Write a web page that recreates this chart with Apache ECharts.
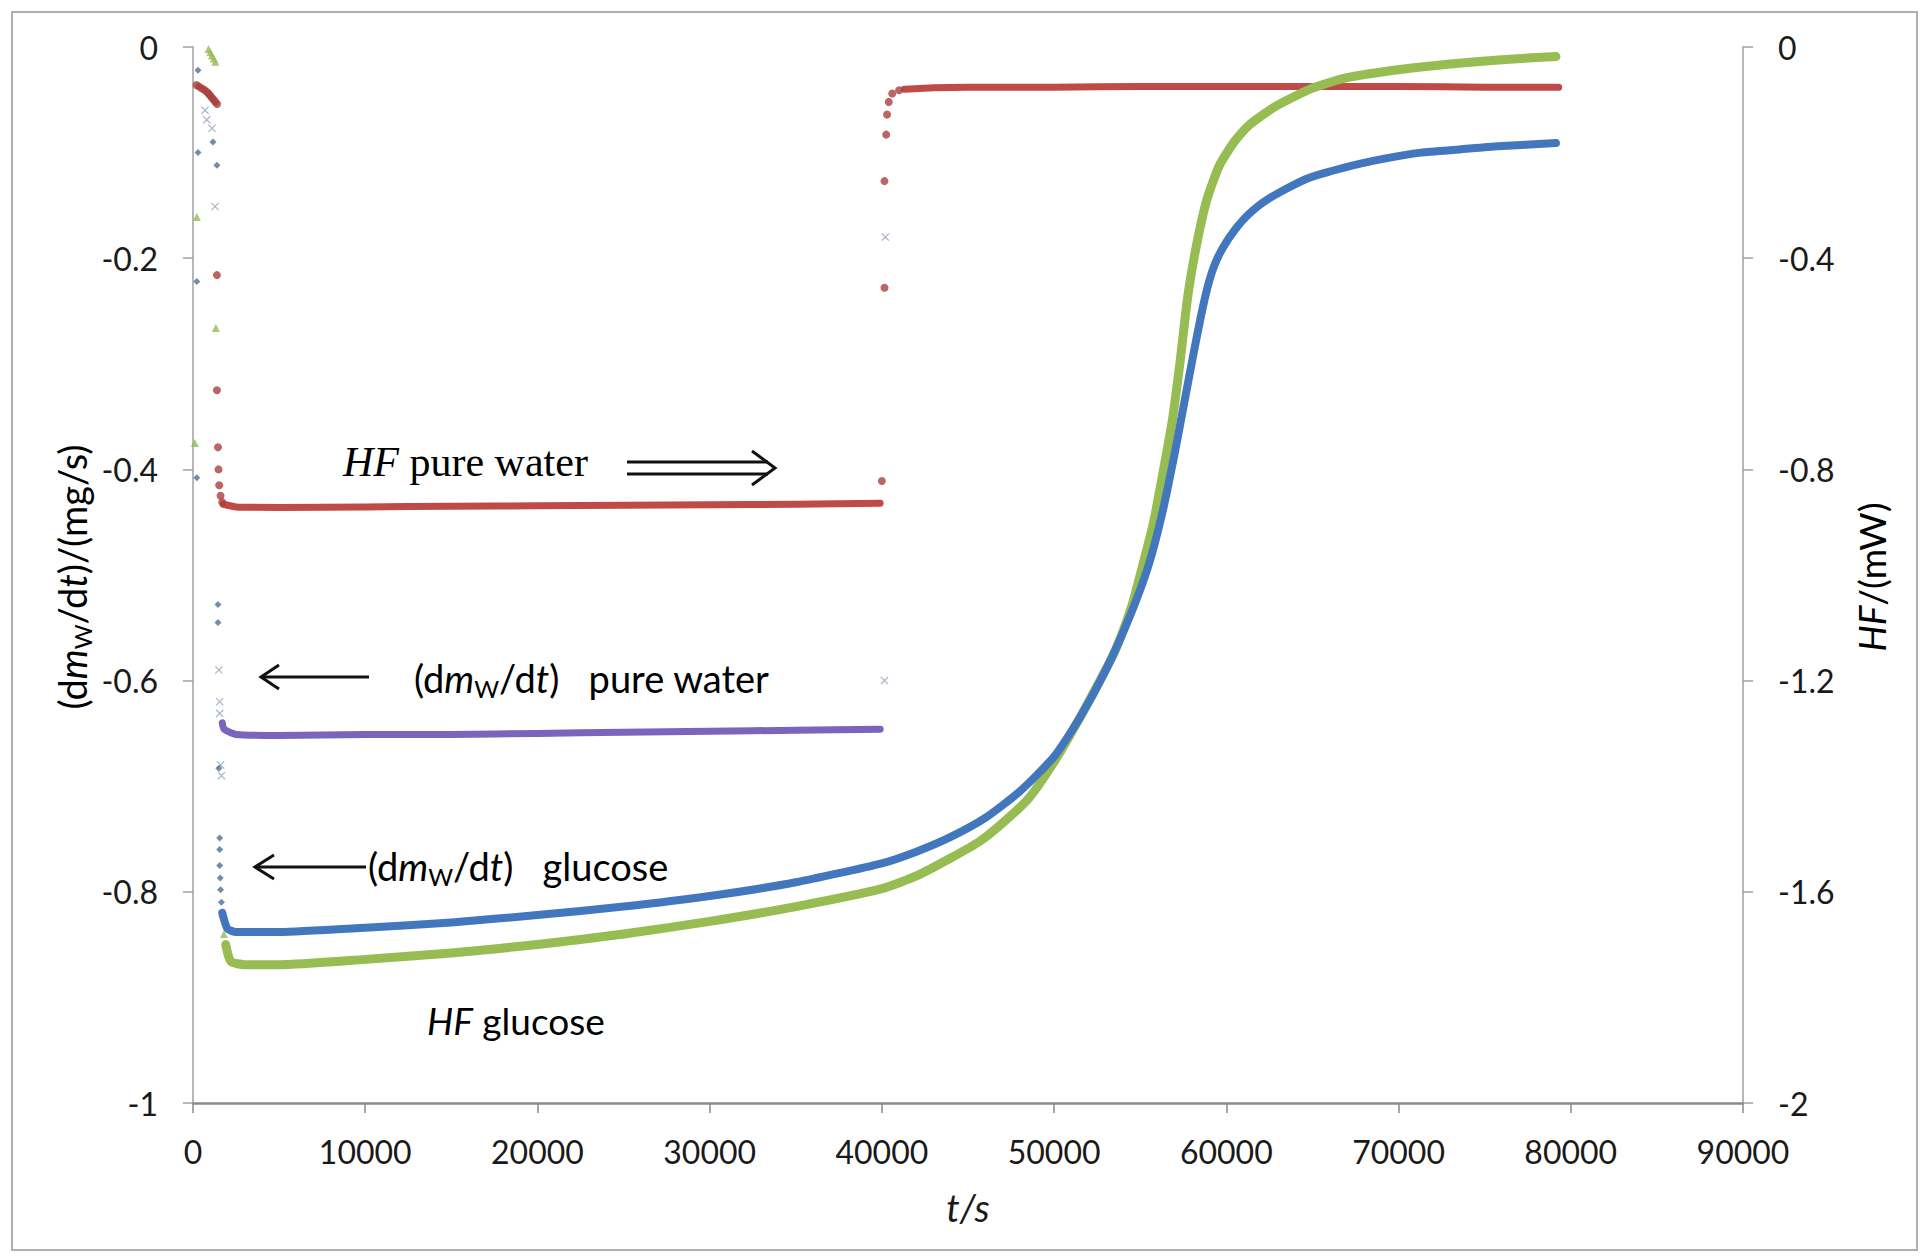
<!DOCTYPE html>
<html><head><meta charset="utf-8">
<script src="https://cdn.jsdelivr.net/npm/echarts/dist/echarts.min.js"></script>
<style>html,body{margin:0;padding:0;background:#fff}#c{width:1921px;height:1259px}</style>
</head><body><div id="c"></div>
<script>
// ---- tick settings ----
const xTicks = {min: 0, max: 90000, interval: 10000};
const leftTicks = {min: -1, max: 0, interval: 0.2};
const rightTicks = {min: -2, max: 0, interval: 0.4};

// ---- HF pure water (right axis, mW) ----
const hfWaterDots = [[200,-0.072],[350,-0.075],[500,-0.078],[650,-0.081],[800,-0.085],[900,-0.088],[1000,-0.092],[1100,-0.096],[1200,-0.1],[1300,-0.104],[1400,-0.108],
  [1390,-0.432],[1390,-0.65],[1450,-0.758],[1480,-0.80],[1520,-0.83],[1600,-0.85],[1700,-0.862],
  [40000,-0.822],[40150,-0.456],[40150,-0.254],[40250,-0.166],[40300,-0.128],[40400,-0.104],[40600,-0.088],[41000,-0.082]];
const hfWaterPlateau1 = [[1750,-0.866],[2500,-0.871],[5000,-0.872],[10000,-0.871],[15000,-0.870],[20000,-0.869],[25000,-0.868],[30000,-0.867],[35000,-0.866],[39900,-0.864]];
const hfWaterPlateau2 = [[41300,-0.080],[43000,-0.077],[45000,-0.076],[50000,-0.076],[55000,-0.075],[60000,-0.075],[65000,-0.075],[70000,-0.075],[75000,-0.076],[79300,-0.076]];

// ---- dm/dt pure water (left axis, mg/s) ----
const dmWaterDots = [[700,-0.06],[800,-0.069],[1100,-0.077],[1280,-0.151],[1500,-0.59],[1550,-0.62],[1550,-0.631],[1600,-0.68],[1650,-0.69],[40150,-0.60],[40200,-0.18]];
const dmWaterLine = [[1700,-0.64],[1800,-0.646],[2500,-0.651],[5000,-0.652],[10000,-0.651],[15000,-0.651],[20000,-0.650],[25000,-0.649],[30000,-0.648],[35000,-0.647],[39900,-0.646]];

// ---- dm/dt glucose (left axis, mg/s) ----
const dmGluDots = [[290,-0.022],[290,-0.10],[220,-0.222],[1160,-0.09],[1390,-0.112],[220,-0.408],[1450,-0.528],[1450,-0.545],[1500,-0.683],[1550,-0.749],[1550,-0.76],[1550,-0.775],[1580,-0.787],[1600,-0.798],[1650,-0.81]];
const dmGluLine = [[1700,-0.82],[2000,-0.835],[2500,-0.838],[5000,-0.838],[10000,-0.834],[15000,-0.829],[20000,-0.822],[25000,-0.814],[30000,-0.804],[35000,-0.791],[40000,-0.773],[42000,-0.762],[44000,-0.748],[46000,-0.73],[48000,-0.705],[50000,-0.672],[51500,-0.635],[53000,-0.59],[54500,-0.535],[55500,-0.49],[56300,-0.44],[57000,-0.385],[57600,-0.333],[58100,-0.29],[58500,-0.257],[58900,-0.228],[59300,-0.207],[59800,-0.19],[60500,-0.173],[61320,-0.158],[62420,-0.144],[64630,-0.125],[66900,-0.114],[69100,-0.106],[71300,-0.100],[73550,-0.097],[75780,-0.094],[79140,-0.091]];

// ---- HF glucose (right axis, mW) ----
const hfGluDots = [[900,-0.004],[1000,-0.01],[1100,-0.016],[1200,-0.022],[1300,-0.028],[220,-0.322],[1330,-0.532],[110,-0.75],[1700,-1.64],[1800,-1.68]];
const hfGluLine = [[1900,-1.70],[2200,-1.732],[3000,-1.738],[5000,-1.738],[10000,-1.728],[15000,-1.716],[20000,-1.70],[25000,-1.68],[30000,-1.656],[35000,-1.628],[40000,-1.594],[42000,-1.57],[44000,-1.536],[45700,-1.504],[47000,-1.47],[48500,-1.424],[50000,-1.354],[51330,-1.28],[52500,-1.21],[53540,-1.144],[54500,-1.06],[55000,-1.00],[55750,-0.904],[56300,-0.81],[56850,-0.71],[57300,-0.60],[57770,-0.47],[58300,-0.37],[58880,-0.288],[59600,-0.224],[60450,-0.18],[61320,-0.148],[62880,-0.112],[65000,-0.078],[67000,-0.058],[70200,-0.042],[73000,-0.032],[76000,-0.024],[79140,-0.018]];

const RED = '#BE4B48', PURPLE = '#7B64BC', BLUE = '#4377BD', GREEN = '#96BC52';
const SANS = 'Lato, "Liberation Sans", sans-serif';
const SERIF = '"Liberation Serif", "DejaVu Serif", serif';
const XMARK = 'path://M0,1 L1,0 L5,4 L9,0 L10,1 L6,5 L10,9 L9,10 L5,6 L1,10 L0,9 L4,5 Z';

function lineS(data, axis, color, width, z) {
  return {type: 'line', data, yAxisIndex: axis, showSymbol: false, symbol: 'none', smooth: 0.2,
    lineStyle: {color, width, cap: 'round', join: 'round'}, z, silent: true};
}
function dotS(data, axis, color, symbol, size, z) {
  return {type: 'scatter', data, yAxisIndex: axis, symbol, symbolSize: size, itemStyle: {color}, z, silent: true};
}

const chart = echarts.init(document.getElementById('c'), null, {renderer: 'svg', width: 1921, height: 1259});
const axisGray = '#8a8a8a';
const TXT = '#1a1a1a';
const richDm = (fs) => ({
  p: {fontFamily: SANS, fontSize: fs, lineHeight: fs + 6, color: TXT},
  i: {fontFamily: SANS, fontSize: fs, fontStyle: 'italic', lineHeight: fs + 6, color: TXT},
  s: {fontFamily: SANS, fontSize: Math.round(fs * 0.62), lineHeight: Math.round(fs * 0.5), verticalAlign: 'bottom', color: TXT}
});
const plain = (v) => String(Math.round(v * 1000) / 1000);

chart.setOption({
  animation: false,
  backgroundColor: '#fff',
  grid: {left: 193, right: 178, top: 47, bottom: 156, containLabel: false},
  xAxis: {type: 'value', min: xTicks.min, max: xTicks.max, interval: xTicks.interval,
    axisLine: {onZero: false, lineStyle: {color: axisGray, width: 2.5}},
    axisTick: {show: true, inside: false, length: 10, lineStyle: {color: axisGray, width: 1.5}},
    axisLabel: {color: TXT, fontFamily: SANS, fontSize: 32, margin: 32, formatter: plain},
    splitLine: {show: false}},
  yAxis: [
    {type: 'value', position: 'left', min: leftTicks.min, max: leftTicks.max, interval: leftTicks.interval,
      axisLine: {show: true, onZero: false, lineStyle: {color: '#a0a0a0', width: 1.5}},
      axisTick: {show: true, inside: false, length: 10, lineStyle: {color: '#a0a0a0', width: 1.5}},
      axisLabel: {color: TXT, fontFamily: SANS, fontSize: 32, margin: 35, formatter: plain},
      splitLine: {show: false}},
    {type: 'value', position: 'right', min: rightTicks.min, max: rightTicks.max, interval: rightTicks.interval,
      axisLine: {show: true, onZero: false, lineStyle: {color: '#a0a0a0', width: 1.5}},
      axisTick: {show: true, inside: false, length: 10, lineStyle: {color: '#a0a0a0', width: 1.5}},
      axisLabel: {color: TXT, fontFamily: SANS, fontSize: 32, margin: 35, formatter: plain},
      splitLine: {show: false}}
  ],
  series: [
    lineS(hfWaterPlateau1, 1, RED, 7, 2),
    lineS(hfWaterPlateau2, 1, RED, 7, 2),
    dotS(hfWaterDots, 1, '#a9403d', 'circle', 8, 2),
    lineS(dmWaterLine, 0, PURPLE, 7, 3),
    dotS(dmWaterDots, 0, '#8fa0b8', XMARK, 8, 3),
    lineS(hfGluLine, 1, GREEN, 9, 4),
    dotS(hfGluDots, 1, GREEN, 'triangle', 8, 4),
    lineS(dmGluLine, 0, BLUE, 8, 5),
    dotS(dmGluDots, 0, '#4f6f98', 'diamond', 7, 5)
  ],
  graphic: [
    {type: 'rect', shape: {x: 12, y: 12, width: 1905, height: 1238}, style: {fill: 'none', stroke: '#b0b0b0', lineWidth: 2}, z: 0},
    // HF pure water
    {type: 'text', x: 343, y: 462, style: {text: '{i|HF}{n| pure water}', textVerticalAlign: 'middle',
      rich: {i: {fontFamily: SERIF, fontStyle: 'italic', fontSize: 42, color: '#111'}, n: {fontFamily: SERIF, fontSize: 42, color: '#111'}}}, z: 10},
    {type: 'line', shape: {x1: 627, y1: 462, x2: 768, y2: 462}, style: {stroke: '#111', lineWidth: 3}, z: 10},
    {type: 'line', shape: {x1: 627, y1: 474, x2: 768, y2: 474}, style: {stroke: '#111', lineWidth: 3}, z: 10},
    {type: 'polyline', shape: {points: [[752, 451], [775, 468], [752, 485]]}, style: {stroke: '#111', lineWidth: 3, fill: 'none'}, z: 10},
    // dm/dt pure water
    {type: 'text', x: 414, y: 678, style: {text: '{p|(d}{i|m}{s|W}{p|/d}{i|t}{p|)   pure water}', textVerticalAlign: 'middle', rich: richDm(38)}, z: 10},
    {type: 'line', shape: {x1: 262, y1: 677, x2: 369, y2: 677}, style: {stroke: '#111', lineWidth: 3}, z: 10},
    {type: 'polyline', shape: {points: [[279, 665], [261, 677], [279, 689]]}, style: {stroke: '#111', lineWidth: 3, fill: 'none'}, z: 10},
    // dm/dt glucose
    {type: 'text', x: 368, y: 866, style: {text: '{p|(d}{i|m}{s|W}{p|/d}{i|t}{p|)   glucose}', textVerticalAlign: 'middle', rich: richDm(38)}, z: 10},
    {type: 'line', shape: {x1: 256, y1: 867, x2: 366, y2: 867}, style: {stroke: '#111', lineWidth: 3}, z: 10},
    {type: 'polyline', shape: {points: [[274, 855], [255, 867], [274, 879]]}, style: {stroke: '#111', lineWidth: 3, fill: 'none'}, z: 10},
    // HF glucose
    {type: 'text', x: 427, y: 1020, style: {text: '{i|HF}{n| glucose}', textVerticalAlign: 'middle',
      rich: {i: {fontFamily: SANS, fontStyle: 'italic', fontSize: 37, color: TXT}, n: {fontFamily: SANS, fontSize: 37, color: TXT}}}, z: 10},
    // axis titles
    {type: 'text', x: 968, y: 1207, style: {text: 't/s', font: 'italic 38px ' + SANS, fill: TXT, textAlign: 'center', textVerticalAlign: 'middle'}, z: 10},
    {type: 'text', x: 72, y: 577, rotation: Math.PI / 2, style: {text: '{p|(d}{i|m}{s|W}{p|/d}{i|t}{p|)/(mg/s)}', textAlign: 'center', textVerticalAlign: 'middle', rich: richDm(38)}, z: 10},
    {type: 'text', x: 1871, y: 577, rotation: Math.PI / 2, style: {text: '{i|HF}{n|/(mW)}', textAlign: 'center', textVerticalAlign: 'middle',
      rich: {i: {fontFamily: SANS, fontStyle: 'italic', fontSize: 37, color: TXT}, n: {fontFamily: SANS, fontSize: 37, color: TXT}}}, z: 10}
  ]
});
</script></body></html>
